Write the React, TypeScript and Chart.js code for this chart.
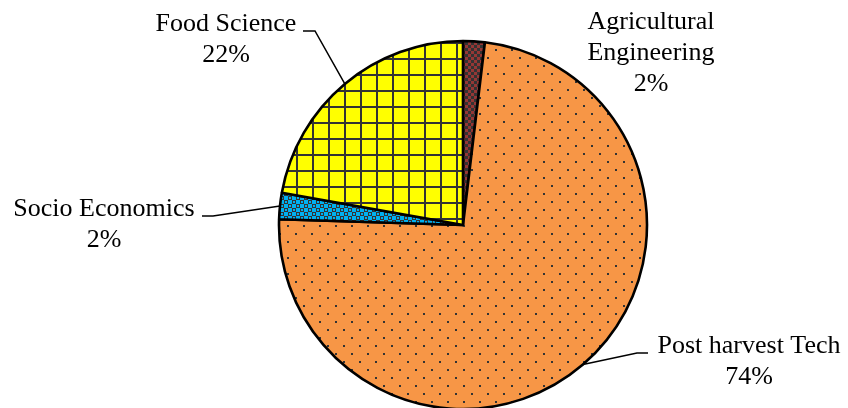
import React, { useEffect, useRef } from 'react';
import { Chart, registerables } from 'chart.js';

Chart.register(...registerables);

// ---- data ----
const categories = ['Agricultural Engineering', 'Post harvest Tech', 'Socio Economics', 'Food Science'];
const shares = [1.9, 73.6, 2.3, 22.2];
const labelLines = [['Agricultural', 'Engineering'], ['Post harvest Tech'], ['Socio Economics'], ['Food Science']];

// ---- layout for data labels (positions only) ----
const labelPlacement = [
  { x: 651, y: 29, leader: false, elbowX: 0, endX: 0 },
  { x: 749, y: 353, leader: true, elbowX: 637, endX: 648 },
  { x: 104, y: 216, leader: true, elbowX: 213, endX: 202 },
  { x: 226, y: 31, leader: true, elbowX: 315, endX: 303 },
];

function tile(size: number, draw: (c: CanvasRenderingContext2D) => void): CanvasPattern | string {
  const cv = document.createElement('canvas');
  cv.width = size;
  cv.height = size;
  const c = cv.getContext('2d')!;
  draw(c);
  return c.createPattern(cv, 'repeat') || '#888';
}

function makePatterns() {
  const dark = '#333333';
  const agri = tile(6, (c) => {
    c.fillStyle = dark;
    c.fillRect(0, 0, 6, 6);
    c.fillStyle = '#953735';
    c.fillRect(0, 0, 3, 3);
    c.fillRect(3, 3, 3, 3);
  });
  const post = tile(16, (c) => {
    c.fillStyle = '#F79646';
    c.fillRect(0, 0, 16, 16);
    c.fillStyle = dark;
    c.fillRect(7, 9, 2, 2);
    c.fillRect(15, 1, 1, 2);
    c.fillRect(0, 1, 1, 2);
  });
  const socio = tile(8, (c) => {
    c.fillStyle = dark;
    c.fillRect(0, 0, 8, 8);
    c.fillStyle = '#00B0F0';
    c.fillRect(0, 0, 4, 4);
    c.fillRect(4, 4, 4, 4);
    c.fillRect(5, 1, 2, 2);
    c.fillRect(1, 5, 2, 2);
  });
  const food = tile(16, (c) => {
    c.fillStyle = '#FFFF00';
    c.fillRect(0, 0, 16, 16);
    c.fillStyle = dark;
    c.fillRect(8, 0, 2, 16);
    c.fillRect(0, 10, 16, 2);
  });
  return [agri, post, socio, food];
}

const labelPlugin = {
  id: 'pieLabels',
  afterDraw(chart: any) {
    const ctx: CanvasRenderingContext2D = chart.ctx;
    const meta = chart.getDatasetMeta(0);
    const values: number[] = chart.data.datasets[0].data;
    ctx.save();
    ctx.font = '26px "Liberation Serif", "Times New Roman", serif';
    ctx.fillStyle = '#000';
    ctx.textAlign = 'center';
    ctx.textBaseline = 'alphabetic';
    meta.data.forEach((arc: any, i: number) => {
      const p = arc.getProps(['x', 'y', 'startAngle', 'endAngle', 'outerRadius'], true);
      const mid = (p.startAngle + p.endAngle) / 2;
      const ex = p.x + Math.cos(mid) * p.outerRadius;
      const ey = p.y + Math.sin(mid) * p.outerRadius;
      const pl = labelPlacement[i];
      if (pl.leader) {
        ctx.beginPath();
        ctx.strokeStyle = '#000';
        ctx.lineWidth = 1.5;
        ctx.moveTo(ex, ey);
        ctx.lineTo(pl.elbowX, pl.y);
        ctx.lineTo(pl.endX, pl.y);
        ctx.stroke();
      }
      const lines = [...labelLines[i], Math.round(values[i]) + '%'];
      lines.forEach((t, k) => {
        ctx.fillText(t, pl.x, pl.y + k * 31);
      });
    });
    ctx.restore();
  },
};

export default function App() {
  const ref = useRef<HTMLCanvasElement>(null);
  useEffect(() => {
    if (!ref.current) return;
    const chart = new Chart(ref.current, {
      type: 'pie',
      data: {
        labels: categories,
        datasets: [
          {
            data: shares,
            backgroundColor: makePatterns() as any,
            borderColor: '#000',
            borderWidth: 2.6,
          },
        ],
      },
      options: {
        animation: false,
        responsive: true,
        maintainAspectRatio: false,
        radius: 184,
        layout: { padding: { left: 78, top: 42, right: 0, bottom: 0 } },
        plugins: {
          legend: { display: false },
          tooltip: { enabled: false },
        },
      } as any,
      plugins: [labelPlugin],
    });
    return () => chart.destroy();
  }, []);
  return (
    <div style={{ position: 'fixed', left: 0, top: 0, width: 848, height: 408, background: '#fff' }}>
      <canvas ref={ref} />
    </div>
  );
}
